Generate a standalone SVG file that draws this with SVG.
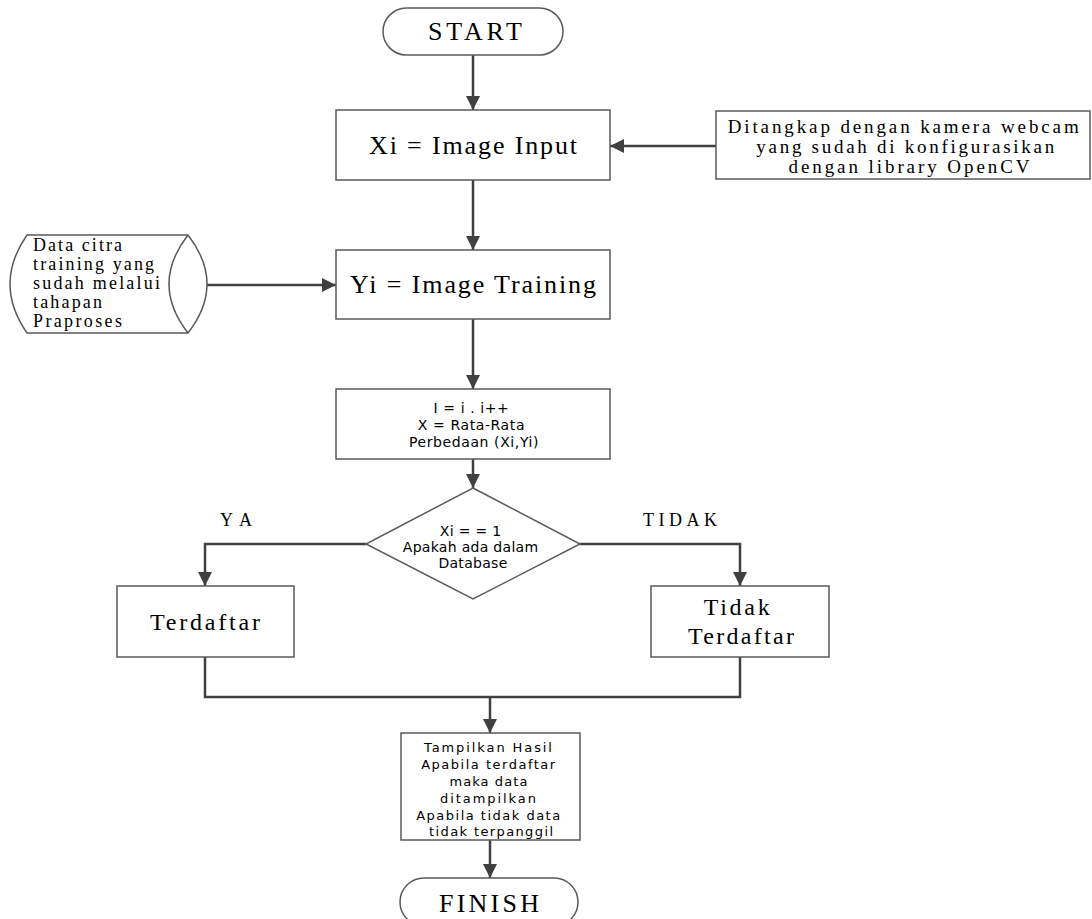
<svg xmlns="http://www.w3.org/2000/svg" width="1092" height="919" viewBox="0 0 1092 919">
<style>
.box{fill:#fff;stroke:#5a5a5a;stroke-width:1.5}
.ln{fill:none;stroke:#404040;stroke-width:2.5}
.ser{font-family:"Liberation Serif","Times New Roman",serif;fill:#000}
.san{font-family:"DejaVu Sans","Verdana",sans-serif;fill:#000}
</style>
<defs>
<marker id="ah" markerUnits="userSpaceOnUse" markerWidth="14" markerHeight="14" viewBox="0 0 14 14" refX="14" refY="7" orient="auto">
<path d="M0,0 L14,7 L0,14 Z" fill="#404040"/>
</marker>
</defs>
<rect width="1092" height="919" fill="#fff"/>
<g id="connectors">
<path class="ln" d="M473,55 V110" marker-end="url(#ah)"/>
<path class="ln" d="M716,146 H610" marker-end="url(#ah)"/>
<path class="ln" d="M473,180 V250" marker-end="url(#ah)"/>
<path class="ln" d="M207,285 H336" marker-end="url(#ah)"/>
<path class="ln" d="M473,319 V389" marker-end="url(#ah)"/>
<path class="ln" d="M473,459 V488" marker-end="url(#ah)"/>
<path class="ln" d="M366,544 H205 V586" marker-end="url(#ah)"/>
<path class="ln" d="M580,544 H740 V586" marker-end="url(#ah)"/>
<path class="ln" d="M205,657 V697 H740 V657"/>
<path class="ln" d="M490,697 V733" marker-end="url(#ah)"/>
<path class="ln" d="M490,840 V878" marker-end="url(#ah)"/>
</g>
<g id="start">
<rect class="box" x="383" y="8" width="180" height="47" rx="23.5"/>
<text class="ser" x="475" y="40" font-size="26" text-anchor="middle" textLength="94" lengthAdjust="spacing">START</text>
</g>
<g id="image-input">
<rect class="box" x="336" y="110" width="274" height="70"/>
<text class="ser" x="473" y="154" font-size="26" text-anchor="middle" textLength="208" lengthAdjust="spacing">Xi = Image Input</text>
</g>
<g id="webcam">
<rect class="box" x="716" y="111" width="374" height="68"/>
<text class="ser" font-size="19" text-anchor="middle">
<tspan x="907" y="133" textLength="351" lengthAdjust="spacing">Ditangkap dengan kamera webcam</tspan>
<tspan x="909" y="153" textLength="298" lengthAdjust="spacing">yang sudah di konfigurasikan</tspan>
<tspan x="909" y="173" textLength="241" lengthAdjust="spacing">dengan library OpenCV</tspan>
</text>
</g>
<g id="data-citra">
<path class="box" d="M27,235 H188 Q226,284 188,333 H27 Q-7,284 27,235 Z"/>
<path class="box" d="M188,235 Q150,284 188,333" fill="none"/>
<text class="ser" font-size="18">
<tspan x="33" y="251" textLength="89" lengthAdjust="spacing">Data citra</tspan>
<tspan x="33" y="270" textLength="121" lengthAdjust="spacing">training yang</tspan>
<tspan x="33" y="289" textLength="127" lengthAdjust="spacing">sudah melalui</tspan>
<tspan x="33" y="308" textLength="69" lengthAdjust="spacing">tahapan</tspan>
<tspan x="33" y="327" textLength="89" lengthAdjust="spacing">Praproses</tspan>
</text>
</g>
<g id="image-training">
<rect class="box" x="336" y="250" width="274" height="69"/>
<text class="ser" x="473" y="293" font-size="26" text-anchor="middle" textLength="246" lengthAdjust="spacing">Yi = Image Training</text>
</g>
<g id="rata-rata">
<rect class="box" x="336" y="389" width="274" height="70"/>
<text class="san" font-size="14" text-anchor="middle" letter-spacing="0.6">
<tspan x="474" y="413">I = i . i++</tspan>
<tspan x="474" y="430">X = Rata-Rata</tspan>
<tspan x="474" y="447">Perbedaan (Xi,Yi)</tspan>
</text>
</g>
<g id="decision">
<polygon class="box" points="473,488 580,544 473,599 366,544"/>
<text class="san" font-size="14" text-anchor="middle" letter-spacing="0.3">
<tspan x="473" y="536">Xi = = 1</tspan>
<tspan x="473" y="552">Apakah ada dalam</tspan>
<tspan x="473" y="568">Database</tspan>
</text>
</g>
<g id="labels">
<text class="ser" x="236" y="526" font-size="18" text-anchor="middle" textLength="32" lengthAdjust="spacing">YA</text>
<text class="ser" x="680" y="526" font-size="18" text-anchor="middle" textLength="74" lengthAdjust="spacing">TIDAK</text>
</g>
<g id="terdaftar">
<rect class="box" x="117" y="586" width="177" height="71"/>
<text class="ser" x="205" y="630" font-size="24" text-anchor="middle" textLength="110" lengthAdjust="spacing">Terdaftar</text>
</g>
<g id="tidak-terdaftar">
<rect class="box" x="651" y="586" width="178" height="71"/>
<text class="ser" font-size="24" text-anchor="middle">
<tspan x="741" y="615" textLength="66" lengthAdjust="spacing">Tidak</tspan>
<tspan x="741" y="644" textLength="106" lengthAdjust="spacing">Terdaftar</tspan>
</text>
</g>
<g id="tampilkan">
<rect class="box" x="401" y="733" width="179" height="107"/>
<text class="san" font-size="13" text-anchor="middle">
<tspan x="491" y="752" textLength="128" lengthAdjust="spacing">Tampilkan Hasil</tspan>
<tspan x="491" y="769" textLength="134" lengthAdjust="spacing">Apabila terdaftar</tspan>
<tspan x="491" y="786" textLength="78" lengthAdjust="spacing">maka data</tspan>
<tspan x="491" y="803" textLength="96" lengthAdjust="spacing">ditampilkan</tspan>
<tspan x="491" y="820" textLength="144" lengthAdjust="spacing">Apabila tidak data</tspan>
<tspan x="491" y="836" textLength="124" lengthAdjust="spacing">tidak terpanggil</tspan>
</text>
</g>
<g id="finish">
<rect class="box" x="400" y="878" width="178" height="48" rx="24"/>
<text class="ser" x="489" y="912" font-size="26" text-anchor="middle" textLength="100" lengthAdjust="spacing">FINISH</text>
</g>
</svg>
